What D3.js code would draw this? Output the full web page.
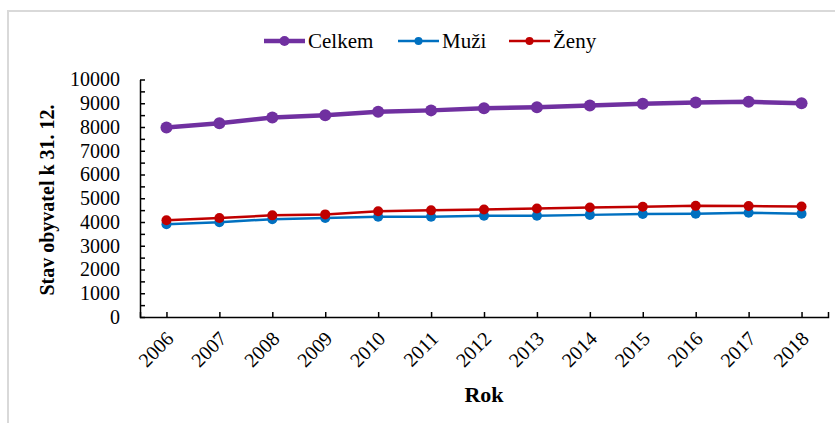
<!DOCTYPE html>
<html>
<head>
<meta charset="utf-8">
<script src="https://cdn.jsdelivr.net/npm/d3@7"></script>
<style>
  body { margin: 0; background: #fff; }
</style>
</head>
<body>
<div id="chart"></div>
<script>
const years = [2006, 2007, 2008, 2009, 2010, 2011, 2012, 2013, 2014, 2015, 2016, 2017, 2018];
const celkem = [7980, 8160, 8400, 8490, 8640, 8700, 8790, 8830, 8910, 8980, 9030, 9060, 9000];
const muzi = [3910, 3990, 4120, 4170, 4220, 4220, 4260, 4260, 4300, 4340, 4350, 4390, 4350];
const zeny = [4070, 4170, 4280, 4320, 4450, 4490, 4530, 4570, 4610, 4640, 4680, 4670, 4650];
const yTicks = d3.range(0, 10001, 500);

const seriesNames = ["Celkem", "Muži", "Ženy"];
const seriesColors = ["#7030a0", "#0070c0", "#c00000"];

const serif = '"Liberation Serif"';
const width = 835, height = 423;

const svg = d3.select("#chart").append("svg")
    .attr("width", width)
    .attr("height", height);

// chart border (only top and left edges are visible in the crop)
svg.append("rect")
    .attr("x", 8).attr("y", 11)
    .attr("width", 900).attr("height", 500)
    .attr("fill", "none")
    .attr("stroke", "#d9d9d9")
    .attr("stroke-width", 2);

const x = d3.scalePoint()
    .domain(years)
    .range([140, 828])
    .padding(0.5);

const y = d3.scaleLinear()
    .domain([0, 10000])
    .range([317, 79.5]);

// y axis, minor ticks every 500, labels every 1000
const yAxis = svg.append("g")
    .attr("transform", "translate(140,0)")
    .call(d3.axisLeft(y)
        .tickValues(yTicks)
        .tickSizeInner(-5)
        .tickSizeOuter(0)
        .tickPadding(20)
        .tickFormat(d => d % 1000 === 0 ? d : ""));
yAxis.selectAll("text")
    .style("font-family", serif)
    .style("font-size", "20px")
    .attr("fill", "#000");

// x axis
const xAxis = svg.append("g")
    .attr("transform", "translate(0,317)")
    .call(d3.axisBottom(x)
        .tickSizeInner(-5)
        .tickSizeOuter(-5));
xAxis.selectAll("text")
    .style("font-family", serif)
    .style("font-size", "20px")
    .attr("fill", "#000")
    .attr("text-anchor", "end")
    .attr("x", 0).attr("y", 0).attr("dy", "0.35em")
    .attr("transform", "translate(3,18) rotate(-45)");

svg.selectAll(".domain, .tick line")
    .attr("stroke", "#000")
    .attr("stroke-width", 1.5);

// axis titles
svg.append("text")
    .attr("x", 484).attr("y", 402)
    .attr("text-anchor", "middle")
    .style("font-family", serif)
    .style("font-size", "22px")
    .style("font-weight", "bold")
    .text("Rok");

svg.append("text")
    .attr("transform", "translate(47,200) rotate(-90)")
    .attr("text-anchor", "middle")
    .attr("dy", "0.35em")
    .style("font-family", serif)
    .style("font-size", "20px")
    .style("font-weight", "bold")
    .text("Stav obyvatel k 31. 12.");

// series
const series = [
    { name: seriesNames[0], values: celkem, color: seriesColors[0], lw: 4.5, r: 6 },
    { name: seriesNames[1], values: muzi, color: seriesColors[1], lw: 2.5, r: 5 },
    { name: seriesNames[2], values: zeny, color: seriesColors[2], lw: 2.5, r: 5 }
];

const line = d3.line()
    .x((d, i) => x(years[i]))
    .y(d => y(d));

// draw Muži first so Ženy sits on top, Celkem last
[series[1], series[2], series[0]].forEach(s => {
    svg.append("path")
        .datum(s.values)
        .attr("fill", "none")
        .attr("stroke", s.color)
        .attr("stroke-width", s.lw)
        .attr("stroke-linejoin", "round")
        .attr("d", line);

    svg.selectAll(null)
        .data(s.values)
        .enter()
        .append("circle")
        .attr("cx", (d, i) => x(years[i]))
        .attr("cy", d => y(d))
        .attr("r", s.r)
        .attr("fill", s.color);
});

// legend
const legendPos = [264, 398, 509];
const legend = svg.selectAll(".legend-item")
    .data(series)
    .enter()
    .append("g")
    .attr("class", "legend-item")
    .attr("transform", (d, i) => `translate(${legendPos[i]},41)`);

legend.append("line")
    .attr("x1", 0).attr("x2", 41)
    .attr("stroke", d => d.color)
    .attr("stroke-width", d => d.lw);

legend.append("circle")
    .attr("cx", 20.5)
    .attr("r", d => d.r - 1)
    .attr("fill", d => d.color);

legend.append("text")
    .attr("x", 44)
    .attr("dy", "0.35em")
    .style("font-family", serif)
    .style("font-size", "21px")
    .text(d => d.name);
</script>
</body>
</html>
